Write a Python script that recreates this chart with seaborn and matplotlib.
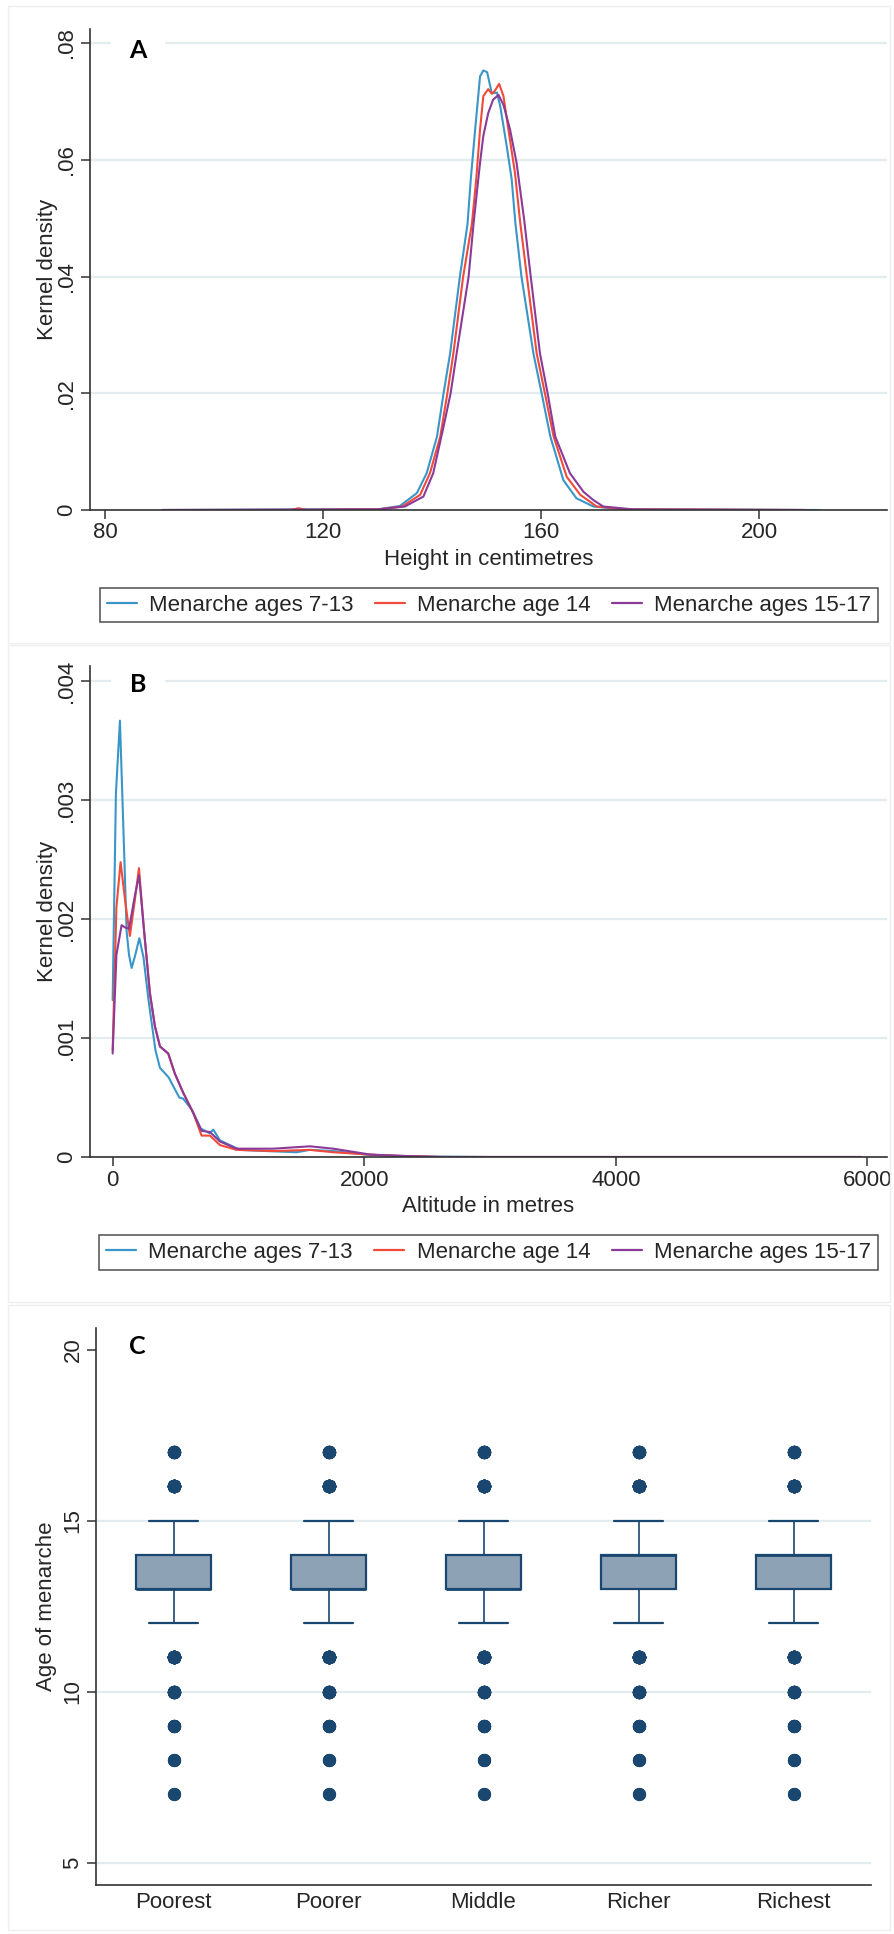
import numpy as np
import pandas as pd
import matplotlib
matplotlib.use("Agg")
import matplotlib.pyplot as plt
from matplotlib.patches import Rectangle
import seaborn as sns

# ---------------- data ----------------
groups = ["Menarche ages 7-13", "Menarche age 14", "Menarche ages 15-17"]
line_colors = ["#3a95c9", "#ef4a3a", "#8b3a97"]

# Panel A: kernel density of height (cm)
height_x_713 = [90.5, 125, 130, 134.1, 137.2, 139.0, 140.9, 142.1, 143.3, 145.1, 146.5, 147.1,
                147.9, 148.8, 149.4, 150.1, 150.95, 151.9, 152.5, 153.7, 154.6, 155.3, 156.4,
                158.6, 160.1, 161.7, 164.1, 166.5, 169.6, 175, 211]
height_y_713 = [0, 0.0001, 0.0001, 0.0007, 0.0029, 0.0063, 0.0126, 0.0200, 0.0268, 0.0400, 0.0490, 0.0567,
                0.0652, 0.0743, 0.0753, 0.0750, 0.0714, 0.0715, 0.0692, 0.0623, 0.0567, 0.0490, 0.0400,
                0.0268, 0.0200, 0.0126, 0.0051, 0.0020, 0.0006, 0.0001, 0]
height_x_14 = [90.5, 114, 115.5, 117, 125, 130, 134.5, 137.8, 139.6, 141.5, 142.8, 143.9, 145.7, 147.3,
               148.1, 148.8, 149.4, 150.3, 150.95, 151.5, 152.3, 153.1, 154.0, 155.2, 156.2, 157.4,
               159.2, 160.7, 162.3, 164.7, 167.2, 170.2, 176, 208.4]
height_y_14 = [0, 0, 0.0003, 0, 0.0001, 0.0001, 0.0006, 0.0026, 0.0063, 0.0126, 0.0200, 0.0268, 0.0400, 0.0490,
               0.0567, 0.0652, 0.0709, 0.0721, 0.0713, 0.0718, 0.0730, 0.0709, 0.0652, 0.0578, 0.0490, 0.0400,
               0.0268, 0.0200, 0.0126, 0.0057, 0.0026, 0.0006, 0.0001, 0]
height_x_1517 = [90.5, 125, 130, 135, 138.4, 140.2, 142.1, 143.4, 144.5, 146.7, 147.6, 148.8, 149.4,
                 150.3, 151.2, 152.2, 153.1, 154.3, 155.5, 156.9, 157.6, 158.1, 159.8, 161.2, 162.6,
                 165.3, 167.8, 169.6, 171.4, 177, 208]
height_y_1517 = [0, 0.0001, 0.0001, 0.0006, 0.0023, 0.0063, 0.0143, 0.0200, 0.0268, 0.0400, 0.0490, 0.0595,
                 0.0641, 0.0680, 0.0703, 0.0711, 0.0694, 0.0652, 0.0595, 0.0497, 0.0440, 0.0400, 0.0268,
                 0.0200, 0.0126, 0.0063, 0.0031, 0.0017, 0.0006, 0.0001, 0]

# Panel B: kernel density of altitude (m)
alt_x_713 = [0, 26, 58, 90, 111, 130, 151, 180, 212, 245, 285, 340, 376, 445, 530, 561, 628, 700,
             770, 800, 853, 1012, 1224, 1463, 1568, 1754, 2019, 2400, 3000, 5950]
alt_y_713 = [0.00132, 0.00306, 0.00367, 0.00261, 0.00190, 0.00170, 0.00159, 0.00170, 0.00184, 0.00168,
             0.00132, 0.00090, 0.00075, 0.00067, 0.00050, 0.00049, 0.00040, 0.00024, 0.00020, 0.00023,
             0.00014, 0.00006, 0.00005, 0.00004, 0.00006, 0.00005, 0.00002, 0.000005, 0, 0]
alt_x_14 = [0, 30, 63, 100, 137, 175, 209, 250, 296, 336, 376, 442, 495, 561, 641, 707, 773, 853,
            985, 1277, 1568, 1754, 2050, 2270, 2600, 5950]
alt_y_14 = [0.00090, 0.00210, 0.00248, 0.00215, 0.00186, 0.00215, 0.00243, 0.00190, 0.00138, 0.00110,
            0.00093, 0.00087, 0.00070, 0.00054, 0.00037, 0.00018, 0.00018, 0.00010, 0.00006, 0.00005,
            0.00006, 0.00004, 0.00002, 0.00001, 0, 0]
alt_x_1517 = [0, 30, 71, 100, 130, 177, 210, 250, 296, 336, 376, 442, 495, 561, 641, 707, 773, 853,
              985, 1277, 1568, 1754, 2050, 2270, 2600, 5950]
alt_y_1517 = [0.00087, 0.00170, 0.00195, 0.00193, 0.00192, 0.00220, 0.00237, 0.00190, 0.00138, 0.00110,
              0.00093, 0.00087, 0.00070, 0.00054, 0.00037, 0.00022, 0.00021, 0.00013, 0.00007, 0.00007,
              0.00009, 0.00007, 0.00002, 0.00001, 0, 0]

# Panel C: age of menarche by wealth quintile (counts per age)
quintiles = ["Poorest", "Poorer", "Middle", "Richer", "Richest"]
ages = [7, 8, 9, 10, 11, 12, 13, 14, 15, 16, 17]
counts_poorest = [2, 3, 6, 18, 50, 150, 330, 250, 120, 40, 12]
counts_poorer = [2, 3, 6, 17, 48, 148, 325, 255, 125, 42, 12]
counts_middle = [2, 3, 6, 16, 47, 145, 320, 260, 128, 43, 13]
counts_richer = [2, 3, 6, 16, 45, 140, 250, 300, 150, 45, 14]
counts_richest = [2, 3, 6, 15, 44, 138, 248, 305, 152, 46, 14]

# tick labels
a_xticks = [80, 120, 160, 200]
a_yticks = [0, 0.02, 0.04, 0.06, 0.08]
a_yticklabels = ["0", ".02", ".04", ".06", ".08"]
b_xticks = [0, 2000, 4000, 6000]
b_yticks = [0, 0.001, 0.002, 0.003, 0.004]
b_yticklabels = ["0", ".001", ".002", ".003", ".004"]
c_yticks = [5, 10, 15, 20]
c_yticklabels = ["5", "10", "15", "20"]

# ---------------- style ----------------
sns.set_theme(style="white")
plt.rcParams["font.family"] = ["Liberation Sans", "DejaVu Sans"]
plt.rcParams["axes.linewidth"] = 1.2

W, H = 894, 1934
DPI = 100
fig = plt.figure(figsize=(W / DPI, H / DPI), dpi=DPI)
fig.patch.set_facecolor("white")

GRID = "#e3edef"
AXC = "#333333"
NAVY = "#1a476f"
BOXFILL = "#8ea2b6"
FS = 16


def fx(px):
    return px / W


def fy(py):
    return 1 - py / H


def axes_rect(left, top, right, bottom):
    return [fx(left), fy(bottom), fx(right) - fx(left), fy(top) - fy(bottom)]


# panel borders
for (l, t, r, b) in [(8, 6, 890, 643), (8, 645, 890, 1302), (8, 1305, 890, 1930)]:
    fig.patches.append(Rectangle((fx(l), fy(b)), fx(r) - fx(l), fy(t) - fy(b),
                                 transform=fig.transFigure, fill=False,
                                 edgecolor="#efefef", lw=1.0, zorder=0))


def style_axes(ax, xtick_len=6.5):
    sns.despine(ax=ax)
    for s in ["left", "bottom"]:
        ax.spines[s].set_color(AXC)
        ax.spines[s].set_linewidth(1.2)
    ax.set_axisbelow(True)
    ax.yaxis.grid(True, color=GRID, lw=1.6)
    ax.xaxis.grid(False)
    ax.tick_params(axis="y", which="major", direction="out", length=6.5, width=1.1,
                   color=AXC, labelsize=FS, pad=2.5, left=True)
    ax.tick_params(axis="x", which="major", direction="out", length=xtick_len, width=1.1,
                   color=AXC, labelsize=FS, pad=2.5, bottom=True)


def panel_label(ax, text, x, y):
    ax.text(x, y, text, transform=ax.transAxes, ha="center", va="center",
            fontsize=18, fontweight="bold", family=["Lato", "DejaVu Sans"], color="black",
            zorder=1, bbox=dict(boxstyle="square,pad=0.75", facecolor="white", edgecolor="none"))


def kde_panel(ax, xs, ys):
    frames = [pd.DataFrame({"x": x, "y": y, "group": g}) for g, x, y in zip(groups, xs, ys)]
    df = pd.concat(frames, ignore_index=True)
    sns.lineplot(data=df, x="x", y="y", hue="group", hue_order=groups, palette=line_colors,
                 estimator=None, sort=False, lw=1.5, ax=ax, zorder=2)
    handles, labels = ax.get_legend_handles_labels()
    if ax.get_legend() is not None:
        ax.get_legend().remove()
    return handles, labels


def add_legend(handles, labels, left, top, right, bottom):
    leg = fig.legend(handles, labels, loc="center", ncol=3, mode="expand",
                     bbox_to_anchor=(fx(left), fy(bottom), fx(right) - fx(left), fy(top) - fy(bottom)),
                     bbox_transform=fig.transFigure, fontsize=FS, frameon=True, fancybox=False,
                     edgecolor="#222222", handlelength=1.35, handletextpad=0.55, borderpad=0.3,
                     borderaxespad=0, columnspacing=1.0)
    leg.get_frame().set_linewidth(1.1)
    for h in leg.legend_handles:
        h.set_linewidth(1.6)
    return leg


# ---------------- Panel A ----------------
axA = fig.add_axes(axes_rect(90, 29, 887, 510))
hA, lA = kde_panel(axA, [height_x_713, height_x_14, height_x_1517],
                   [height_y_713, height_y_14, height_y_1517])
axA.set_xlim(77.2, 223.5)
axA.set_ylim(0, 0.0824)
axA.set_xticks(a_xticks)
axA.set_xticklabels([str(v) for v in a_xticks])
axA.set_yticks(a_yticks)
axA.set_yticklabels(a_yticklabels, rotation=90, va="center")
style_axes(axA)
axA.set_xlabel("Height in centimetres", fontsize=FS)
axA.set_ylabel("Kernel density", fontsize=FS)
axA.xaxis.label.set_va("center")
axA.yaxis.label.set_va("center")
axA.xaxis.set_label_coords(0.5, -(560 - 510) / (510 - 29))
axA.yaxis.set_label_coords((47 - 90) / (887 - 90), 0.5)
panel_label(axA, "A", (138 - 90) / (887 - 90), (510 - 50) / (510 - 29))
add_legend(hA, lA, 100, 585, 878, 625)

# ---------------- Panel B ----------------
axB = fig.add_axes(axes_rect(90, 666, 887, 1157))
hB, lB = kde_panel(axB, [alt_x_713, alt_x_14, alt_x_1517],
                   [alt_y_713, alt_y_14, alt_y_1517])
axB.set_xlim(-180, 6155)
axB.set_ylim(0, 0.00413)
axB.set_xticks(b_xticks)
axB.set_xticklabels([str(v) for v in b_xticks])
axB.set_yticks(b_yticks)
axB.set_yticklabels(b_yticklabels, rotation=90, va="center")
style_axes(axB)
axB.set_xlabel("Altitude in metres", fontsize=FS)
axB.set_ylabel("Kernel density", fontsize=FS)
axB.xaxis.label.set_va("center")
axB.yaxis.label.set_va("center")
axB.xaxis.set_label_coords(0.5, -(1206.5 - 1157) / (1157 - 666))
axB.yaxis.set_label_coords((47 - 90) / (887 - 90), 0.5)
panel_label(axB, "B", (138 - 90) / (887 - 90), (1157 - 685) / (1157 - 666))
add_legend(hB, lB, 99, 1232, 878, 1273)

# ---------------- Panel C ----------------
axC = fig.add_axes(axes_rect(96, 1328, 871, 1884.5))
count_lists = [counts_poorest, counts_poorer, counts_middle, counts_richer, counts_richest]
df_c = pd.concat([pd.DataFrame({"quintile": q, "age": np.repeat(ages, c)})
                  for q, c in zip(quintiles, count_lists)], ignore_index=True)
sns.boxplot(data=df_c, x="quintile", y="age", order=quintiles, color=BOXFILL, saturation=1,
            linecolor=NAVY, linewidth=1.2, width=0.49, whis=1.5, ax=axC,
            boxprops=dict(linewidth=1.6),
            medianprops=dict(linewidth=2.0),
            capprops=dict(linewidth=1.6),
            flierprops=dict(marker="o", markerfacecolor=NAVY, markeredgecolor=NAVY,
                            markersize=9.5, markeredgewidth=0),
            capwidths=0.32)
axC.set_xlim(-0.5, 4.5)
axC.set_ylim(4.36, 20.63)
axC.set_yticks(c_yticks)
axC.set_yticklabels(c_yticklabels, rotation=90, va="center")
style_axes(axC, xtick_len=0)
axC.tick_params(axis="x", pad=5.3)
axC.set_xlabel("")
axC.set_ylabel("Age of menarche", fontsize=FS)
axC.yaxis.label.set_va("center")
axC.yaxis.set_label_coords((47 - 96) / (871 - 96), 0.5)
# the reference shows no gridline at 20
for tick, val in zip(axC.yaxis.get_major_ticks(), c_yticks):
    if val == 20:
        tick.gridline.set_visible(False)
panel_label(axC, "C", (137 - 96) / (871 - 96), (1884.5 - 1347) / (1884.5 - 1328))

fig.savefig("out.png", dpi=DPI, facecolor="white")
